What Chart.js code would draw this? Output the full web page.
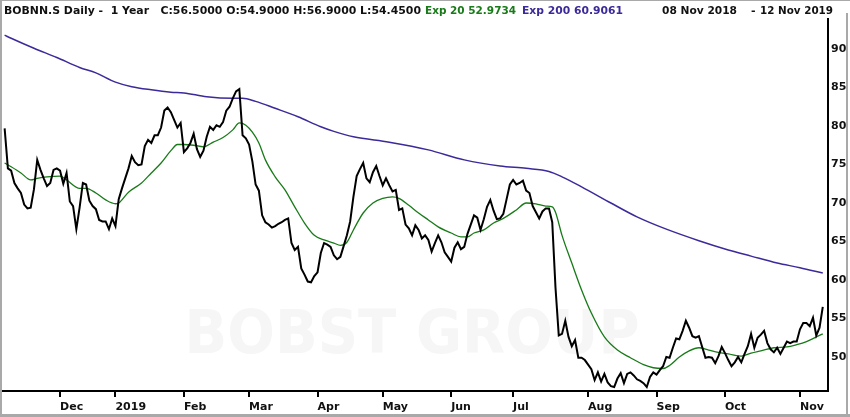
<!DOCTYPE html>
<html><head><meta charset="utf-8">
<script src="https://cdn.jsdelivr.net/npm/chart.js@4.4.0/dist/chart.umd.min.js"></script>
<style>html,body{margin:0;padding:0;background:#fff;overflow:hidden}canvas{display:block}</style>
</head><body>
<canvas id="c" width="850" height="417"></canvas>
<script>
// Daily closes, trading days 08 Nov 2018 .. 12 Nov 2019 (index = trading day)
const closes = [
79.7,74.5,74.2,72.6,71.9,71.3,69.8,69.3,69.4,71.8,
75.6,74.3,73.2,72.2,72.6,74.3,74.5,74.2,72.5,73.9,
70.2,69.6,66.6,69.4,72.6,72.4,70.3,69.6,69.2,67.8,
67.6,67.6,66.6,68.0,67.0,70.5,71.9,73.2,74.5,76.1,
75.3,74.9,75.0,77.4,78.2,77.8,78.8,78.8,79.8,82.0,
82.4,81.8,80.8,79.8,80.4,76.6,77.1,77.8,79.0,77.0,
76.0,76.8,78.6,79.9,79.5,80.1,79.9,80.5,82.0,82.5,
83.6,84.5,84.8,78.8,78.4,77.6,75.4,72.4,71.6,68.4,
67.5,67.2,66.8,67.0,67.3,67.5,67.8,68.0,64.8,63.9,
64.3,61.5,60.7,59.8,59.7,60.5,61.0,63.5,64.8,64.6,
64.3,63.2,62.7,63.0,64.4,65.8,67.6,70.8,73.5,74.4,
75.2,73.2,72.7,74.0,74.8,73.5,72.3,73.2,72.3,71.5,
71.7,69.1,69.3,67.2,66.7,65.8,67.1,66.5,65.4,65.8,
65.2,63.7,64.8,65.8,64.9,63.6,63.0,62.4,64.2,64.9,
64.0,64.3,66.0,67.2,68.4,68.1,66.5,67.9,69.5,70.4,
69.0,67.9,68.0,68.6,70.5,72.4,73.0,72.4,72.6,72.9,
71.6,71.3,69.6,68.8,68.0,68.9,69.3,69.3,67.5,59.0,
52.8,53.0,54.7,52.6,51.4,52.2,49.9,49.9,49.6,49.0,
48.4,47.0,48.0,46.8,47.8,46.7,46.2,46.1,47.2,47.9,
46.6,47.8,48.0,47.6,47.1,46.9,46.6,46.1,47.4,48.0,
47.7,48.3,48.8,50.0,49.9,51.2,52.4,52.3,53.4,54.7,
53.8,52.7,52.5,52.7,51.3,49.9,50.0,49.9,49.2,50.1,
51.3,50.5,49.6,48.8,49.3,50.0,49.3,50.4,51.4,53.0,
51.2,52.5,52.9,53.4,51.8,51.0,50.6,51.2,50.4,51.2,
52.0,51.8,52.0,52.0,53.6,54.4,54.4,54.0,55.1,52.8,
53.8,56.5
];
// Exp 20 at these trading days
const ema20Day = [0,2,5,8,10,13,17,19,23,25,28,31,34,35,38,42,45,48,51,53,55,58,61,64,67,70,72,74,76,78,80,83,86,89,92,95,98,101,103,105,107,110,113,116,119,121,124,127,130,133,137,140,142,144,147,150,153,157,160,163,166,168,169,171,174,177,180,184,188,192,196,199,202,204,207,210,213,216,219,222,226,229,232,236,240,243,246,249,251];
const ema20 = [75.2,74.7,73.9,73.0,73.2,73.4,73.5,73.0,71.9,71.9,71.3,70.4,69.9,70.0,71.4,72.6,73.9,75.2,76.8,77.6,77.6,77.5,77.3,77.9,78.5,79.5,80.4,80.1,79.2,77.8,75.6,73.4,71.7,69.5,67.4,65.8,65.2,64.8,64.5,64.9,66.5,68.7,70.0,70.6,70.8,70.6,69.7,68.7,67.8,66.9,66.1,65.6,65.6,66.1,66.5,67.4,68.0,69.1,70.0,69.9,69.6,69.5,68.8,65.8,62.2,58.7,55.7,52.6,50.9,49.9,49.0,48.6,48.5,48.9,50.0,50.8,51.2,50.9,50.6,50.4,50.1,50.5,50.8,51.2,51.3,51.6,52.0,52.6,53.0];
// Exp 200 at these trading days
const ema200Day = [0,2,9,16,23,28,34,39,45,51,55,62,70,73,77,83,90,97,101,107,118,130,141,152,160,167,171,177,186,194,203,213,222,229,237,244,251];
const ema200 = [91.8,91.4,90.1,88.9,87.6,86.9,85.7,85.1,84.7,84.4,84.3,83.8,83.6,83.6,83.2,82.3,81.2,79.9,79.3,78.6,77.9,76.9,75.6,74.8,74.5,74.1,73.4,72.1,70.0,68.2,66.6,65.1,63.9,63.1,62.2,61.6,60.9];
// month ticks (first trading day of each month)
const monthTickDay = [17,34,55,75,96,116,137,156,179,200,221,244];
const monthTickLabels = ['Dec','2019','Feb','Mar','Apr','May','Jun','Jul','Aug','Sep','Oct','Nov'];
const yTickValues = [50,55,60,65,70,75,80,85,90];
const titleMain = 'BOBNN.S Daily -  1 Year   C:56.5000 O:54.9000 H:56.9000 L:54.4500';
const titleExp20 = 'Exp 20 52.9734';
const titleExp200 = 'Exp 200 60.9061';
const titleFrom = '08 Nov 2018';
const titleTo = '12 Nov 2019';
const watermark = 'BOBST GROUP';

const GREEN = '#187a18', PURPLE = '#3b2a9a';
const FONT = '"DejaVu Sans", sans-serif';

const chrome = {
  id: 'chrome',
  beforeDraw(chart) {
    const c = chart.ctx; c.save();
    c.fillStyle = '#fff'; c.fillRect(0, 0, 850, 417);
    c.fillStyle = '#a9a9a9';
    c.fillRect(0, 0, 2, 417);
    c.fillRect(0, 0, 850, 1);
    c.fillRect(846, 13, 2, 404);
    c.fillRect(0, 414, 850, 3);
    c.restore();
  },
  beforeDatasetsDraw(chart) {
    const c = chart.ctx; c.save();
    c.fillStyle = '#f6f6f6';
    c.font = 'bold 60px ' + FONT;
    c.textAlign = 'center'; c.textBaseline = 'alphabetic';
    c.fillText(watermark, 412, 353, 455);
    c.restore();
  },
  afterDraw(chart) {
    const c = chart.ctx; c.save();
    c.font = 'bold 11px ' + FONT; c.textBaseline = 'middle'; c.textAlign = 'left';
    c.fillStyle = '#111'; c.fillText(titleMain, 4, 11, 417);
    c.fillStyle = GREEN; c.fillText(titleExp20, 425, 11, 91);
    c.fillStyle = PURPLE; c.fillText(titleExp200, 522, 11, 101);
    c.fillStyle = '#111';
    c.fillText(titleFrom, 662, 11, 75);
    c.fillText('-', 751, 11);
    c.textAlign = 'right'; c.fillText(titleTo, 833, 11, 73);
    c.restore();
  }
};

new Chart(document.getElementById('c'), {
  type: 'line',
  data: {
    datasets: [
      { label: 'Close', data: closes.map((v, i) => ({ x: i, y: v })), borderColor: '#000', borderWidth: 2, pointRadius: 0, tension: 0 },
      { label: 'Exp 20', data: ema20Day.map((d, i) => ({ x: d, y: ema20[i] })), borderColor: GREEN, borderWidth: 1.3, pointRadius: 0, cubicInterpolationMode: 'monotone' },
      { label: 'Exp 200', data: ema200Day.map((d, i) => ({ x: d, y: ema200[i] })), borderColor: PURPLE, borderWidth: 1.5, pointRadius: 0, cubicInterpolationMode: 'monotone' }
    ]
  },
  options: {
    responsive: false, animation: false, devicePixelRatio: 1,
    layout: { padding: { left: 3, top: 19, right: 0, bottom: 0 } },
    plugins: { legend: { display: false }, tooltip: { enabled: false }, title: { display: false } },
    scales: {
      x: {
        type: 'linear', position: 'bottom', min: -0.5, max: 252.6,
        afterBuildTicks: s => { s.ticks = monthTickDay.map(v => ({ value: v })); },
        afterFit: s => { s.height = 26; },
        ticks: { autoSkip: false, maxRotation: 0, align: 'start', padding: 4, color: '#111',
          font: { family: FONT, size: 11, weight: 'bold' },
          callback: v => monthTickLabels[monthTickDay.indexOf(v)] },
        grid: { drawOnChartArea: false, drawTicks: true, tickLength: 6, color: '#000', lineWidth: 2 },
        border: { display: true, color: '#000', width: 2 }
      },
      y: {
        type: 'linear', position: 'right', min: 45.58, max: 93.9,
        afterBuildTicks: s => { s.ticks = yTickValues.map(v => ({ value: v })); },
        afterFit: s => { s.width = 22; },
        ticks: { padding: 3, color: '#111', font: { family: FONT, size: 11, weight: 'bold' } },
        grid: { display: false, drawTicks: false },
        border: { display: true, color: '#000', width: 2 }
      }
    }
  },
  plugins: [chrome]
});
</script>
</body></html>
